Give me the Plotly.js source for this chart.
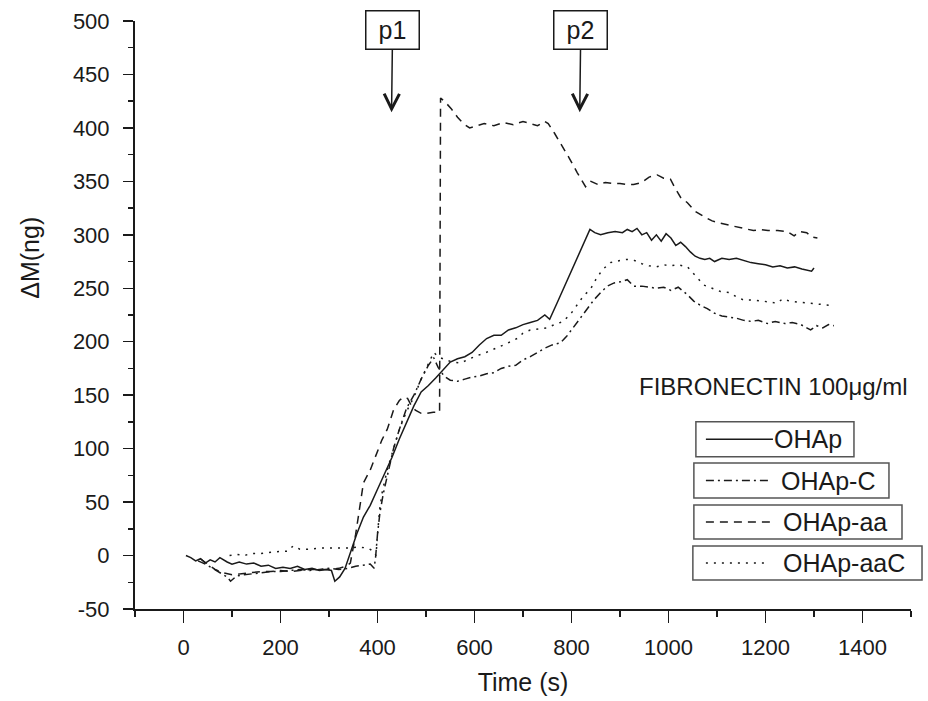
<!DOCTYPE html>
<html>
<head>
<meta charset="utf-8">
<script src="https://cdn.plot.ly/plotly-3.0.1.min.js"></script>
<style>html,body{margin:0;padding:0;background:#fff;}#chart{width:928px;height:701px;}</style>
</head>
<body>
<div id="chart"></div>
<script>
// ---- data ----
const seriesNames = ["OHAp", "OHAp-C", "OHAp-aa", "OHAp-aaC"];

const timeOHAp = [5,15,25,35,45,55,65,75,90,100,115,130,145,160,175,190,205,220,235,250,265,280,295,305,312,322,333,344,357,371,385,400,415,430,445,460,475,490,505,520,535,550,565,580,595,610,625,640,655,670,685,700,715,730,745,755,770,785,800,815,830,838,848,860,875,890,905,915,925,935,945,955,965,975,985,995,1005,1015,1025,1035,1045,1055,1065,1075,1085,1095,1110,1125,1140,1155,1170,1185,1200,1215,1230,1245,1260,1275,1285,1295,1300];
const massOHAp = [0,-2,-5,-3,-7,-4,-6,-2,-6,-8,-6,-8,-7,-10,-9,-12,-11,-12,-10,-13,-12,-14,-13,-14,-24,-20,-12,3,20,36,47,62,77,92,109,124,140,153,159,166,174,181,184,186,190,197,203,206,206,211,213,216,218,220,225,221,236,251,266,281,296,305,302,300,302,303,302,305,303,306,300,302,295,300,294,301,297,290,293,289,284,280,278,277,278,275,278,277,278,276,274,273,272,270,271,269,270,268,267,266,269];

const timeOHApC = [30,45,60,75,90,97,110,125,140,160,180,200,220,240,260,280,300,320,340,355,370,385,393,396,400,405,412,420,433,445,460,475,490,505,516,525,537,550,565,580,595,610,625,640,655,670,685,700,715,730,745,760,777,790,805,818,832,846,860,874,888,901,915,928,945,960,975,990,1005,1020,1039,1052,1066,1080,1093,1110,1125,1140,1155,1170,1185,1204,1220,1240,1255,1273,1285,1293,1305,1318,1330,1341];
const massOHApC = [-5,-8,-12,-16,-20,-24,-19,-18,-17,-16,-15,-15,-14,-13,-14,-13,-12,-13,-12,-10,-9,-8,-12,-2,20,40,58,75,100,118,138,150,165,178,185,176,168,164,163,165,167,168,170,171,175,177,178,183,186,190,194,197,199,205,214,222,231,239,246,252,255,256,258,252,252,251,250,251,248,251,244,238,234,231,227,224,223,222,220,219,220,217,219,217,218,216,213,211,215,213,216,215];

const timeOHApAa = [35,50,65,80,100,120,140,160,180,200,220,240,260,280,300,320,335,344,355,365,371,385,398,409,420,433,445,453,462,470,478,490,502,515,528,530,540,552,565,577,590,605,620,640,660,680,700,715,730,745,752,765,777,795,812,829,840,855,870,885,900,915,928,945,960,977,990,1004,1012,1025,1039,1055,1073,1090,1105,1125,1142,1160,1175,1190,1205,1225,1245,1259,1270,1285,1295,1307];
const massOHApAa = [-3,-8,-13,-16,-18,-17,-16,-15,-15,-14,-15,-14,-13,-13,-13,-12,-10,-7,20,50,68,80,95,108,118,136,145,148,147,140,136,133,133,134,134,428,424,418,410,404,400,402,404,402,405,403,406,404,402,406,404,395,386,372,358,345,350,347,349,348,348,347,347,349,354,356,353,352,345,335,330,322,317,313,311,309,308,306,304,305,304,304,303,299,303,302,298,297];

const timeOHApAaC = [95,110,125,140,160,180,200,215,226,240,260,280,300,320,340,360,380,392,397,400,405,410,420,433,445,460,475,490,505,516,525,540,555,571,590,605,619,635,647,665,688,700,715,730,749,765,783,800,812,825,839,850,863,880,900,915,930,945,960,975,990,1005,1020,1039,1055,1073,1090,1107,1125,1140,1155,1175,1195,1210,1224,1235,1250,1270,1290,1307,1320,1334];
const massOHApAaC = [0,1,0,2,2,3,4,4,9,6,6,7,7,7,7,8,7,4,0,20,45,60,80,100,118,135,148,165,180,190,186,183,181,180,184,187,189,192,194,198,203,208,211,212,213,216,219,227,235,243,249,258,267,274,276,277,276,273,271,270,272,271,272,270,262,253,250,247,246,242,239,239,238,237,236,240,238,237,236,235,234,234];

const xTickVals = [0,200,400,600,800,1000,1200,1400];
const yTickVals = [-50,0,50,100,150,200,250,300,350,400,450,500];
const yTickText = ["-50","0","50","100","150","200","250","300","350","400","450","500"];
const markerLabels = ["p1", "p2"];
const markerTimes = [429, 817];
const noteText = "FIBRONECTIN 100μg/ml";

// ---- styles ----
const ink = "#1a1a1a";
const dashes = ["solid", "8px,4px,2px,4px", "8px,6px", "2px,6px"];
const FONT = "Liberation Sans, Arial, sans-serif";

const xs = [timeOHAp, timeOHApC, timeOHApAa, timeOHApAaC];
const ys = [massOHAp, massOHApC, massOHApAa, massOHApAaC];

const traces = seriesNames.map((n, i) => ({
  type: "scatter", mode: "lines", name: n,
  x: xs[i], y: ys[i],
  line: {color: ink, width: 1.5, dash: dashes[i]},
  showlegend: false
}));

// custom boxed legend (each entry in its own frame, as in the reference)
const legBoxes = [
  [0.7228, 0.9265, 0.2589, 0.3184],
  [0.7202, 0.9716, 0.1887, 0.2482],
  [0.7202, 0.9884, 0.1190, 0.1768],
  [0.7189, 1.0142, 0.0493, 0.1071]
];
const legLineX = [0.7357, 0.8221];
const legTextX = [0.8221, 0.8311, 0.8337, 0.8337];

const shapes = [];
const annotations = [];
legBoxes.forEach((b, i) => {
  shapes.push({type: "rect", xref: "paper", yref: "paper", x0: b[0], x1: b[1], y0: b[2], y1: b[3],
    line: {color: "#555", width: 1.5}, fillcolor: "rgba(0,0,0,0)"});
  const yc = (b[2] + b[3]) / 2;
  shapes.push({type: "line", xref: "paper", yref: "paper", x0: legLineX[0], x1: legLineX[1] - (i ? 0.004 : 0), y0: yc, y1: yc,
    line: {color: ink, width: 1.5, dash: dashes[i]}});
  annotations.push({xref: "paper", yref: "paper", x: legTextX[i], y: yc, xanchor: "left", yanchor: "middle",
    text: seriesNames[i], showarrow: false, borderpad: 0, font: {family: FONT, size: 25, color: ink}});
});

annotations.push({xref: "paper", yref: "paper", x: 0.6467, y: 0.3791, xanchor: "left", yanchor: "middle",
  text: noteText, showarrow: false, font: {family: FONT, size: 24, color: ink}});

annotations.push({xref: "paper", yref: "paper", x: -0.1348, y: 0.598, xanchor: "center", yanchor: "middle",
  text: "ΔM(ng)", textangle: -90, showarrow: false, font: {family: FONT, size: 25, color: ink}});

markerLabels.forEach((t, i) => {
  annotations.push({xref: "x", yref: "y", x: markerTimes[i], y: 414.6, ax: 1, ay: -82, text: t,
    showarrow: true, arrowhead: 5, arrowsize: 2, arrowwidth: 1.5, arrowcolor: ink,
    bordercolor: ink, borderwidth: 1.5, borderpad: 2, width: 48, height: 33, bgcolor: "#fff",
    font: {family: FONT, size: 25, color: ink}});
});

const layout = {
  width: 928, height: 701,
  paper_bgcolor: "#fff", plot_bgcolor: "#fff",
  margin: {l: 135, r: 17, t: 21, b: 92},
  showlegend: false,
  font: {family: FONT, color: ink},
  xaxis: {
    range: [-100, 1500], tickvals: xTickVals, ticks: "outside", ticklen: 12, tickwidth: 1.5, tickcolor: ink,
    minor: {dtick: 100, tick0: 0, ticks: "outside", ticklen: 6, tickwidth: 1.5, tickcolor: ink},
    showline: true, linecolor: ink, linewidth: 2, showgrid: false, zeroline: false,
    tickfont: {family: FONT, size: 22, color: ink}, ticklabelstandoff: 6,
    title: {text: "Time (s)", font: {family: FONT, size: 25, color: ink}, standoff: 14}
  },
  yaxis: {
    range: [-50, 500], tickvals: yTickVals, ticktext: yTickText, ticks: "outside", ticklen: 10, tickwidth: 1.5, tickcolor: ink,
    minor: {dtick: 25, tick0: 0, ticks: "outside", ticklen: 5, tickwidth: 1.5, tickcolor: ink},
    showline: true, linecolor: ink, linewidth: 2, showgrid: false, zeroline: false,
    tickfont: {family: FONT, size: 22, color: ink}, ticklabelstandoff: 9
  },
  shapes: shapes,
  annotations: annotations
};

Plotly.newPlot("chart", traces, layout, {staticPlot: true, displayModeBar: false});
</script>
</body>
</html>
